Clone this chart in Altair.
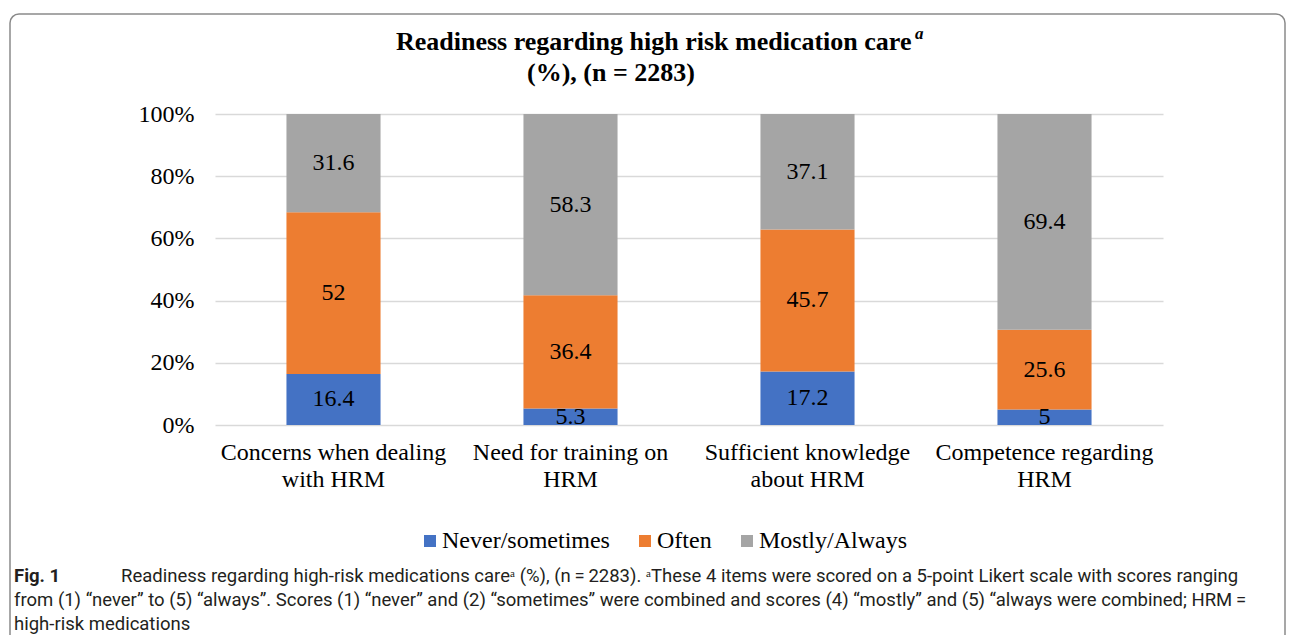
import altair as alt
import pandas as pd

categories = ["Concerns when dealing with HRM", "Need for training on HRM",
              "Sufficient knowledge about HRM", "Competence regarding HRM"]
label_lines = [["Concerns when dealing", "with HRM"], ["Need for training on", "HRM"],
               ["Sufficient knowledge", "about HRM"], ["Competence regarding", "HRM"]]
series = ["Never/sometimes", "Often", "Mostly/Always"]
never = [16.4, 5.3, 17.2, 5.0]
often = [52.0, 36.4, 45.7, 25.6]
mostly = [31.6, 58.3, 37.1, 69.4]
colors = ["#4472C4", "#ED7D31", "#A5A5A5"]
y_ticks = [0, 20, 40, 60, 80, 100]

title_line1 = "Readiness regarding high risk medication care"
title_sup = "a"
title_line2 = "(%), (n = 2283)"
cap_bold = "Fig. 1"
cap_line1 = "Readiness regarding high-risk medications care\u1d43 (%), (n\u2009=\u20092283). \u1d43These 4 items were scored on a 5-point Likert scale with scores ranging"
cap_line2 = "from (1) \u201cnever\u201d to (5) \u201calways\u201d. Scores (1) \u201cnever\u201d and (2) \u201csometimes\u201d were combined and scores (4) \u201cmostly\u201d and (5) \u201calways were combined; HRM\u2009="
cap_line3 = "high-risk medications"

rows = []
for ci, c in enumerate(categories):
    for si, (s, vals) in enumerate(zip(series, [never, often, mostly])):
        rows.append({"category": c, "series": s, "idx": si, "value": vals[ci],
                     "label": f"{vals[ci]:g}"})
df = pd.DataFrame(rows)

SERIF = "Liberation Serif"
CAPF = "Roboto"
FS = 24

expr = "''"
for c, l in zip(reversed(categories), reversed(label_lines)):
    expr = f"datum.label == '{c}' ? ['{l[0]}', '{l[1]}'] : ({expr})"

x_enc = alt.X("category:N", sort=categories,
              scale=alt.Scale(paddingInner=0.603, paddingOuter=0.3015),
              axis=alt.Axis(title=None, labelAngle=0, domain=False, ticks=False,
                            labelFont=SERIF, labelFontSize=FS, labelColor="#000000",
                            labelLineHeight=27, labelPadding=15, labelExpr=expr,
                            labelLimit=400))
y_enc = alt.Y("v0:Q", scale=alt.Scale(domain=[0, 100], nice=False),
              axis=alt.Axis(title=None, values=y_ticks, labelExpr="datum.value + '%'",
                            domain=False, ticks=False, labelFont=SERIF, labelFontSize=FS,
                            labelColor="#000000", labelPadding=21,
                            gridColor="#d9d9d9", gridWidth=1.5))

base = alt.Chart(df).transform_stack(
    stack="value", as_=["v0", "v1"], groupby=["category"],
    sort=[alt.SortField("idx", order="ascending")]
).transform_calculate(mid="(datum.v0 + datum.v1) / 2")

bars = base.mark_bar().encode(
    x=x_enc, y=y_enc, y2="v1:Q",
    color=alt.Color("series:N", scale=alt.Scale(domain=series, range=colors),
                    legend=alt.Legend(orient="none", legendX=203, legendY=415,
                                      direction="horizontal", title=None, padding=0,
                                      symbolType="square", symbolSize=144,
                                      symbolStrokeWidth=0, labelFont=SERIF,
                                      labelFontSize=FS, labelColor="#000000",
                                      columnPadding=23, labelOffset=0,
                                      labelLimit=300)),
)

labels = base.mark_text(font=SERIF, fontSize=FS, color="#000000", baseline="middle").encode(
    x=alt.X("category:N", sort=categories),
    y=alt.Y("mid:Q"),
    text="label:N",
)

one = alt.Data(values=[{}])

box = alt.Chart(one).mark_rect(fill="transparent", stroke="#8a8a8a", strokeWidth=1.5,
                               cornerRadius=9).encode(
    x=alt.value(-205), x2=alt.value(1070), y=alt.value(-100), y2=alt.value(600))

def txt(text, x, y, font, size, weight="normal", style="normal", align="left", color="#000000"):
    return alt.Chart(one).mark_text(text=text, font=font, fontSize=size, fontWeight=weight,
                                    fontStyle=style, align=align, baseline="alphabetic",
                                    color=color).encode(x=alt.value(x), y=alt.value(y))

t1 = txt(title_line1, 181, -64, SERIF, 26, weight="bold")
t1a = txt(title_sup, 700, -75, SERIF, 17, weight="bold", style="italic")
t2 = txt(title_line2, 312, -33, SERIF, 26, weight="bold")

capc = "#231f20"
CS = 18.5
c0 = txt(cap_bold, -201, 468, CAPF, CS, weight="bold", color=capc)
c1 = txt(cap_line1, -94, 468, CAPF, CS, color=capc)
c2 = txt(cap_line2, -201, 492, CAPF, CS, color=capc)
c3 = txt(cap_line3, -201, 516, CAPF, CS, color=capc)

chart = alt.layer(box, bars, labels, t1, t1a, t2, c0, c1, c2, c3).properties(
    width=948, height=311,
    autosize=alt.AutoSizeParams(type="none"),
    padding={"left": 207, "top": 106, "right": 124, "bottom": 210},
).configure_view(stroke=None)

chart.save("out.html", embed_options={"renderer": "svg", "actions": False})
